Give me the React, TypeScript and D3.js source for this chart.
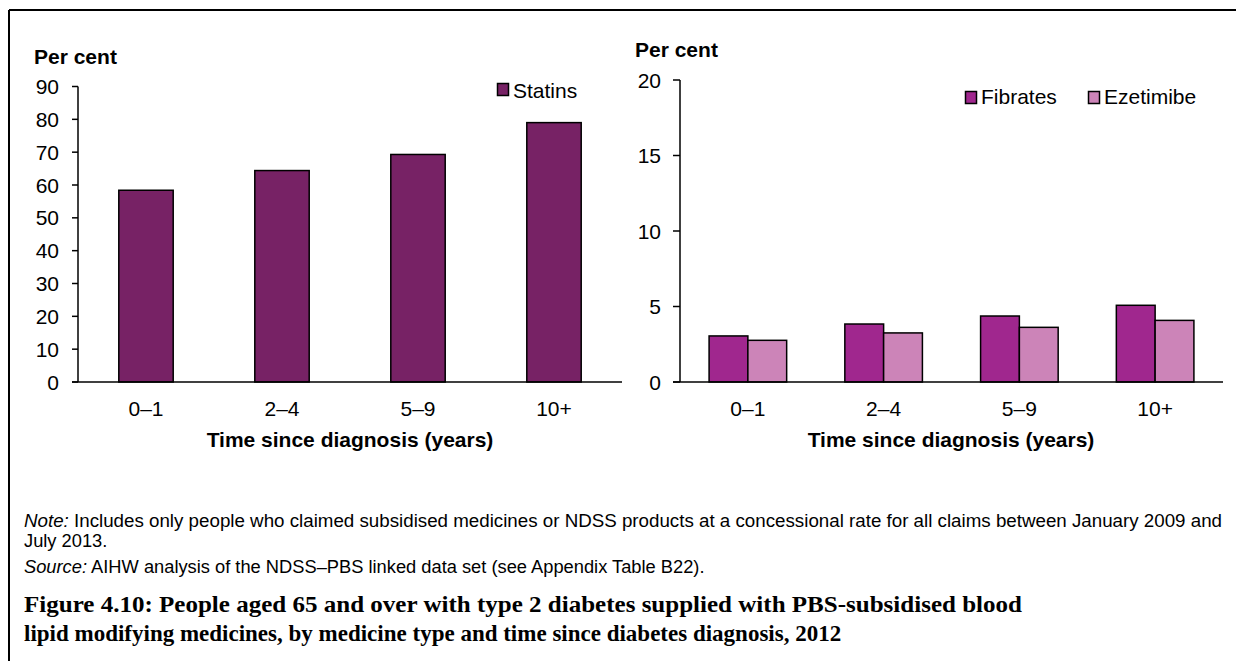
import React from "react";
import * as d3 from "d3";

const categories = ["0–1", "2–4", "5–9", "10+"];
const statins = [58.4, 64.4, 69.3, 79.0];
const fibrates = [3.05, 3.84, 4.37, 5.08];
const ezetimibe = [2.76, 3.25, 3.62, 4.08];
const leftTicks = [0, 10, 20, 30, 40, 50, 60, 70, 80, 90];
const rightTicks = [0, 5, 10, 15, 20];

const noteLine1 = "Includes only people who claimed subsidised medicines or NDSS products at a concessional rate for all claims between January 2009 and";
const noteLine2 = "July 2013.";
const sourceText = "AIHW analysis of the NDSS–PBS linked data set (see Appendix Table B22).";
const titleLine1 = "Figure 4.10: People aged 65 and over with type 2 diabetes supplied with PBS-subsidised blood";
const titleLine2 = "lipid modifying medicines, by medicine type and time since diabetes diagnosis, 2012";

const C_STATINS = "#772265";
const C_FIB = "#A0278E";
const C_EZE = "#CC84B8";
const SANS = "'Liberation Sans', Arial, sans-serif";
const SERIF = "'Liberation Serif', 'Times New Roman', serif";

export default function App() {
  // Left panel
  const lx = d3.scaleBand<string>().domain(categories).range([78, 622]).paddingInner(0).paddingOuter(0);
  const ly = d3.scaleLinear().domain([0, 90]).range([382, 86.5]);
  const lBarW = lx.bandwidth() / 2.5;

  // Right panel
  const rx = d3.scaleBand<string>().domain(categories).range([680, 1223]);
  const ry = d3.scaleLinear().domain([0, 20]).range([382, 80]);
  const rGroupW = rx.bandwidth() / 1.75;
  const rSub = d3.scaleBand<string>().domain(["f", "e"]).range([0, rGroupW]);

  const tickFont = 21;
  const noteFont = 18.3;

  return (
    <svg width={1236} height={661} style={{ position: "absolute", left: 0, top: 0, background: "#fff" }}
      fontFamily={SANS}>
      <rect x={0} y={0} width={1236} height={661} fill="#fff" />
      {/* frame */}
      <line x1={9} x2={1236} y1={10} y2={10} stroke="#000" strokeWidth={2} />
      <line x1={9} x2={9} y1={10} y2={661} stroke="#000" strokeWidth={2} />

      {/* LEFT PANEL */}
      <text x={34} y={64} fontSize={21} fontWeight="bold">Per cent</text>
      {leftTicks.map((t) => (
        <g key={"lt" + t}>
          <line x1={72} x2={78} y1={ly(t)} y2={ly(t)} stroke="#000" strokeWidth={1.5} />
          <text x={59} y={ly(t) + 7.5} fontSize={tickFont} textAnchor="end">{t}</text>
        </g>
      ))}
      {categories.map((c, i) => (
        <rect key={"s" + c}
          x={lx(c)! + (lx.bandwidth() - lBarW) / 2}
          y={ly(statins[i])}
          width={lBarW}
          height={ly(0) - ly(statins[i])}
          fill={C_STATINS} stroke="#000" strokeWidth={1.5} />
      ))}
      <line x1={78} x2={78} y1={ly(90)} y2={ly(0)} stroke="#000" strokeWidth={1.5} />
      <line x1={72} x2={622} y1={ly(0)} y2={ly(0)} stroke="#000" strokeWidth={1.5} />
      {categories.map((c) => (
        <text key={"lx" + c} x={lx(c)! + lx.bandwidth() / 2} y={416} fontSize={tickFont} textAnchor="middle">{c}</text>
      ))}
      <text x={350} y={447} fontSize={21} fontWeight="bold" textAnchor="middle">Time since diagnosis (years)</text>
      <rect x={497.5} y={83.5} width={11} height={12} fill={C_STATINS} stroke="#000" strokeWidth={1.5} />
      <text x={513} y={97.5} fontSize={tickFont}>Statins</text>

      {/* RIGHT PANEL */}
      <text x={635} y={57} fontSize={21} fontWeight="bold">Per cent</text>
      {rightTicks.map((t) => (
        <g key={"rt" + t}>
          <line x1={673} x2={680} y1={ry(t)} y2={ry(t)} stroke="#000" strokeWidth={1.5} />
          <text x={661} y={ry(t) + 7.5} fontSize={tickFont} textAnchor="end">{t}</text>
        </g>
      ))}
      {categories.map((c, i) => {
        const gx = rx(c)! + (rx.bandwidth() - rGroupW) / 2;
        return (
          <g key={"rg" + c}>
            <rect x={gx + rSub("f")!} y={ry(fibrates[i])} width={rSub.bandwidth()}
              height={ry(0) - ry(fibrates[i])} fill={C_FIB} stroke="#000" strokeWidth={1.5} />
            <rect x={gx + rSub("e")!} y={ry(ezetimibe[i])} width={rSub.bandwidth()}
              height={ry(0) - ry(ezetimibe[i])} fill={C_EZE} stroke="#000" strokeWidth={1.5} />
          </g>
        );
      })}
      <line x1={680} x2={680} y1={ry(20)} y2={ry(0)} stroke="#000" strokeWidth={1.5} />
      <line x1={673} x2={1223} y1={ry(0)} y2={ry(0)} stroke="#000" strokeWidth={1.5} />
      {categories.map((c) => (
        <text key={"rx" + c} x={rx(c)! + rx.bandwidth() / 2} y={416} fontSize={tickFont} textAnchor="middle">{c}</text>
      ))}
      <text x={951} y={447} fontSize={21} fontWeight="bold" textAnchor="middle">Time since diagnosis (years)</text>
      <rect x={965.5} y={91.5} width={11} height={12} fill={C_FIB} stroke="#000" strokeWidth={1.5} />
      <text x={981} y={104} fontSize={tickFont}>Fibrates</text>
      <rect x={1088.5} y={91.5} width={11} height={12} fill={C_EZE} stroke="#000" strokeWidth={1.5} />
      <text x={1104} y={104} fontSize={tickFont}>Ezetimibe</text>

      {/* NOTES */}
      <text x={24} y={527} fontSize={noteFont} textLength={1198} lengthAdjust="spacingAndGlyphs">
        <tspan fontStyle="italic">Note:</tspan> {noteLine1}
      </text>
      <text x={24} y={547} fontSize={noteFont}>{noteLine2}</text>
      <text x={24} y={573} fontSize={noteFont}>
        <tspan fontStyle="italic">Source:</tspan> {sourceText}
      </text>
      <text x={24} y={612} fontSize={23} fontFamily={SERIF} fontWeight="bold" textLength={998} lengthAdjust="spacingAndGlyphs">{titleLine1}</text>
      <text x={24} y={641} fontSize={23} fontFamily={SERIF} fontWeight="bold">{titleLine2}</text>
    </svg>
  );
}
